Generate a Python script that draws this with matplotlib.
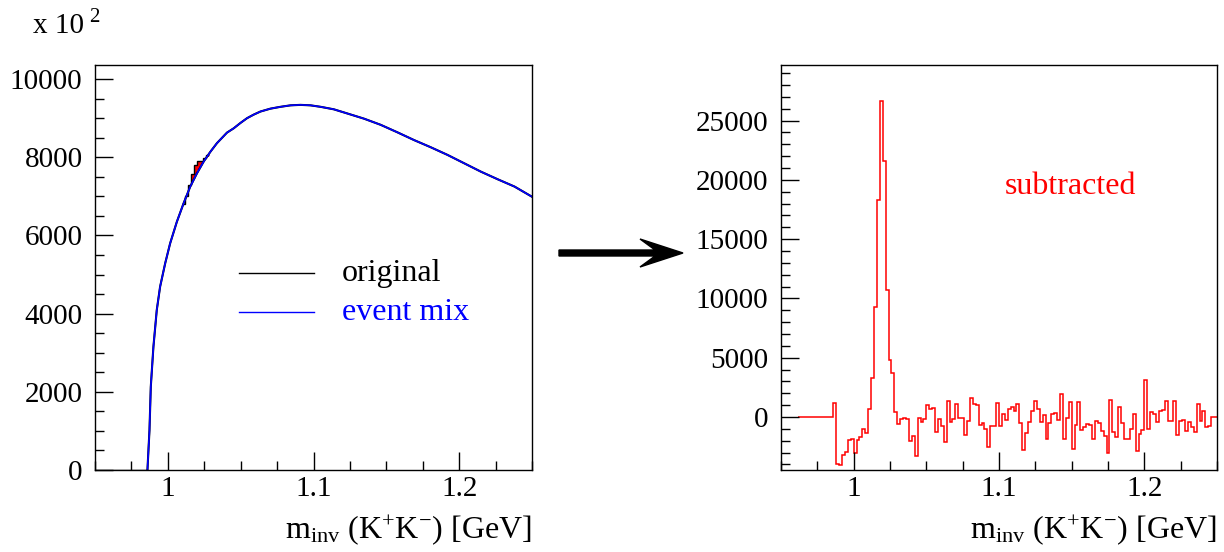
import matplotlib
matplotlib.use("Agg")
import matplotlib.pyplot as plt
import numpy as np
from matplotlib.ticker import MultipleLocator, AutoMinorLocator, FuncFormatter
from matplotlib.patches import FancyArrow
from matplotlib.transforms import IdentityTransform

plt.rcParams['font.family'] = ['Liberation Serif', 'DejaVu Serif']
plt.rcParams['mathtext.fontset'] = 'custom'
plt.rcParams['mathtext.rm'] = 'Liberation Serif'
plt.rcParams['mathtext.it'] = 'Liberation Serif:italic'

# event mix curve (left panel, units of 10^2)
mix_m = [0.9860, 0.9874, 0.9883, 0.9901, 0.9924, 0.9947, 0.9982, 1.0016, 1.0062,
         1.0108, 1.0154, 1.0200, 1.0246, 1.0292, 1.0337, 1.0406, 1.0452, 1.0498,
         1.0544, 1.0589, 1.0636, 1.0704, 1.0773, 1.0842, 1.0910, 1.0980, 1.1049,
         1.1140, 1.1232, 1.1347, 1.1461, 1.1576, 1.1690, 1.1806, 1.1920, 1.2035,
         1.2150, 1.2265, 1.2380, 1.2500]
mix_v = [0, 1020, 2130, 3150, 4090, 4690, 5290, 5800, 6350,
         6820, 7250, 7590, 7890, 8140, 8360, 8630, 8740, 8876,
         9000, 9090, 9170, 9243, 9290, 9328, 9340, 9328, 9290,
         9226, 9120, 8987, 8830, 8638, 8440, 8254, 8060, 7845,
         7630, 7436, 7250, 6990]

# original histogram around the phi peak (where it sticks out over the mix)
peak_lo = 1.010
peak_orig = [6810, 7020, 7300, 7560, 7800, 7900, 7910, 7970, 8050]
peak_mix = [6800, 6990, 7210, 7380, 7530, 7680, 7800, 7920, 8010]

# subtracted spectrum (right panel), 2 MeV bins starting at 0.962 GeV
bin_w = 0.002
sub_lo = 0.962
subtracted = [0] * 12 + [
    1210, -3990, -4046, -3200, -2920, -1900, -1880, -3030, -1910, -1710,
    -980, -1320, 670, 3260, 9300, 18320, 26610, 21550, 10700, 4800,
    3710, 390, -620, -200, -60, -170, -2020, -1600, -3290, -80,
    -390, -170, 980, 650, 730, -1260, -140, -760, -2080, 1320,
    -390, -170, 1100, -80, -90, -1520, -310, 1570, 1120, 1040,
    -650, -510, -1040, -2530, -730, -760, 1210, -760, 220, -250,
    670, 810, 510, 1100, -510, -2810, -1320, -450, 480, 1320,
    650, -450, 200, -1850, -510, 280, 340, -220, 1910, -1850,
    -110, 1240, -2670, -650, 1240, -1100, -870, -590, -670, -1880,
    -310, -480, -1150, -1600, -3010, 1410, -1260, -1710, 840, -480,
    -1880, -1880, -1010, 250, -2890, -1430, -1100, 3090, -1010, 390,
    250, -450, 530, 590, 1320, -310, -310, 1320, -1490, -370,
    -280, -1210, -450, -810, -1290, 1120, -340, 480, -870, -760,
    -30, -30]

fig = plt.figure(figsize=(12.24, 5.52), dpi=100)
ax1 = fig.add_axes([95 / 1224, 82 / 552, 437 / 1224, 405 / 552])
ax2 = fig.add_axes([781 / 1224, 82 / 552, 436 / 1224, 405 / 552])

# left panel
peak_edges = peak_lo + bin_w * np.arange(len(peak_orig) + 1)
ax1.plot(mix_m, mix_v, color='black', lw=1.5)
ax1.fill_between(peak_edges, peak_orig + peak_orig[-1:], peak_mix + peak_mix[-1:],
                 step='post', color='red', lw=0)
ax1.stairs(peak_orig, peak_edges, color='black', lw=1.0, baseline=None)
ax1.plot(mix_m, mix_v, color='blue', lw=1.2)
ax1.plot([0.95, 0.986], [0, 0], color='black', lw=1.0)
ax1.set_xlim(0.95, 1.25)
ax1.set_ylim(0, 10360)
ax1.yaxis.set_major_locator(MultipleLocator(2000))
ax1.yaxis.set_minor_locator(AutoMinorLocator(4))

# legend drawn by hand
ax1.plot([0.33, 0.50], [0.486, 0.486], color='black', lw=1.0, transform=ax1.transAxes)
ax1.plot([0.33, 0.50], [0.39, 0.39], color='blue', lw=1.0, transform=ax1.transAxes)
ax1.text(0.565, 0.486, 'original', color='black', fontsize=23,
         va='center', ha='left', transform=ax1.transAxes)
ax1.text(0.565, 0.39, 'event mix', color='blue', fontsize=23,
         va='center', ha='left', transform=ax1.transAxes)

# right panel
sub_edges = sub_lo + bin_w * np.arange(len(subtracted) + 1)
ax2.stairs(subtracted, sub_edges, color='red', lw=1.1, baseline=None)
ax2.set_xlim(0.95, 1.25)
ax2.set_ylim(-4470, 29680)
ax2.yaxis.set_major_locator(MultipleLocator(5000))
ax2.yaxis.set_minor_locator(AutoMinorLocator(5))
ax2.text(0.514, 0.70, 'subtracted', color='red', fontsize=23,
         va='center', ha='left', transform=ax2.transAxes)

for ax in (ax1, ax2):
    ax.xaxis.set_major_locator(MultipleLocator(0.1))
    ax.xaxis.set_minor_locator(AutoMinorLocator(4))
    ax.xaxis.set_major_formatter(FuncFormatter(lambda v, p: '%g' % round(v, 3)))
    ax.yaxis.set_major_formatter(FuncFormatter(lambda v, p: '%d' % round(v)))
    ax.tick_params(which='both', direction='in', top=False, right=False,
                   labelsize=21, width=1.0)
    ax.tick_params(which='major', length=13)
    ax.tick_params(which='minor', length=6.5)
    ax.tick_params(axis='y', pad=9)
    ax.tick_params(axis='x', pad=4)
    for s in ax.spines.values():
        s.set_linewidth(1.0)
    ax.text(1.0, -0.168, r'm$_{\mathrm{inv}}$ (K$^{+}$K$^{-}$) [GeV]', fontsize=23,
            ha='right', va='baseline', transform=ax.transAxes)

# exponent note
fig.text(33 / 1224, 1 - 33 / 552, 'x 10', fontsize=21, ha='left', va='baseline')
fig.text(89 / 1224, 1 - 22 / 552, '2', fontsize=15, ha='left', va='baseline')

# arrow between the panels
arr = FancyArrow(559, 552 - 253, 124, 0, width=6, head_width=28, head_length=43,
                 length_includes_head=True, overhang=0.35, color='black',
                 transform=IdentityTransform())
fig.patches.append(arr)

fig.savefig('out.png', dpi=100)
